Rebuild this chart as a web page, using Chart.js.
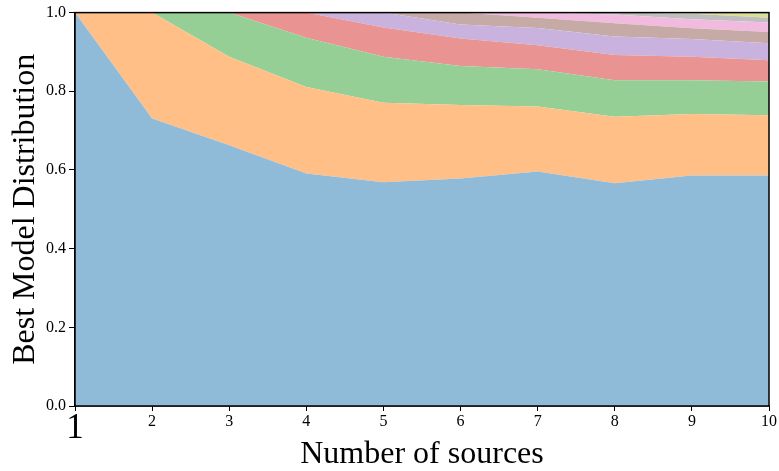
<!DOCTYPE html>
<html>
<head>
<meta charset="utf-8">
<script src="https://cdn.jsdelivr.net/npm/chart.js@4/dist/chart.umd.min.js"></script>
<style>
  html, body { margin: 0; padding: 0; background: #fff; }
  #wrap { width: 779px; height: 471px; }
</style>
</head>
<body>
<div id="wrap"><canvas id="c" width="779" height="471"></canvas></div>
<script>
var sources = ['1', '2', '3', '4', '5', '6', '7', '8', '9', '10'];
// share of runs where each model was best (stacked layers, bottom to top)
var model1 = [1.000, 0.731, 0.663, 0.591, 0.569, 0.578, 0.596, 0.566, 0.586, 0.586];
var model2 = [0, 0.269, 0.225, 0.220, 0.202, 0.187, 0.165, 0.169, 0.156, 0.153];
var model3 = [0, 0, 0.112, 0.125, 0.117, 0.099, 0.095, 0.093, 0.086, 0.086];
var model4 = [0, 0, 0, 0.064, 0.074, 0.070, 0.061, 0.064, 0.060, 0.054];
var model5 = [0, 0, 0, 0, 0.038, 0.036, 0.044, 0.047, 0.045, 0.043];
var model6 = [0, 0, 0, 0, 0, 0.030, 0.026, 0.034, 0.027, 0.029];
var model7 = [0, 0, 0, 0, 0, 0, 0.013, 0.022, 0.023, 0.024];
var model8 = [0, 0, 0, 0, 0, 0, 0, 0.005, 0.014, 0.012];
var model9 = [0, 0, 0, 0, 0, 0, 0, 0, 0.003, 0.010];
var model10 = [0, 0, 0, 0, 0, 0, 0, 0, 0, 0.003];
var yTicks = [0, 0.2, 0.4, 0.6, 0.8, 1.0];

var series = [model1, model2, model3, model4, model5, model6, model7, model8, model9, model10];
var colors = ['#8fbbd9', '#ffbf86', '#95cf95', '#ea9393', '#c9b3de',
              '#c5aaa5', '#f1bbe0', '#bfbfbf', '#dddf90', '#8bdee7'];

var datasets = series.map(function(vals, i) {
    return {
        label: 'model ' + (i + 1), data: vals,
        backgroundColor: colors[i], borderColor: colors[i], borderWidth: 0, pointRadius: 0,
        fill: i === 0 ? 'origin' : '-1', tension: 0
    };
});

// matplotlib-style box around the plot
var frame = {
    id: 'frame',
    afterDraw: function(chart) {
        var a = chart.chartArea, ctx = chart.ctx;
        ctx.save();
        ctx.strokeStyle = '#000';
        ctx.lineWidth = 1.5;
        ctx.strokeRect(a.left, a.top, a.right - a.left, a.bottom - a.top);
        ctx.restore();
    }
};

var serif = '"Liberation Serif", "DejaVu Serif", serif';

new Chart(document.getElementById('c').getContext('2d'), {
    type: 'line',
    data: { labels: sources, datasets: datasets },
    plugins: [frame],
    options: {
        responsive: false, animation: false,
        layout: { padding: { left: 0, right: 10, top: 12, bottom: 0 } },
        plugins: { legend: { display: false }, tooltip: { enabled: false } },
        scales: {
            x: {
                type: 'category', offset: false,
                grid: { display: true, drawOnChartArea: false, drawTicks: true, tickLength: 5, color: '#000', lineWidth: 1 },
                border: { display: true, color: '#000', width: 1.5 },
                ticks: {
                    color: '#000', maxRotation: 0, autoSkip: false, padding: 1,
                    font: function(ctx) {
                        return ctx.index === 0 ? { family: serif, size: 35, lineHeight: 0.95 }
                                               : { family: serif, size: 16 };
                    }
                },
                title: { display: true, text: 'Number of sources', color: '#000',
                         font: { family: serif, size: 32 }, padding: { top: 0, bottom: -3 } },
                afterFit: function(s) { s.height = 65; }
            },
            y: {
                min: 0, max: 1, stacked: true,
                afterBuildTicks: function(s) { s.ticks = yTicks.map(function(v) { return { value: v }; }); },
                grid: { display: true, drawOnChartArea: false, drawTicks: true, tickLength: 6, color: '#000', lineWidth: 1 },
                border: { display: true, color: '#000', width: 1.5 },
                ticks: {
                    color: '#000', padding: 3, font: { family: serif, size: 16 },
                    callback: function(v) { return Number(v).toFixed(1); }
                },
                title: { display: true, text: 'Best Model Distribution', color: '#000',
                         font: { family: serif, size: 32 }, padding: { top: 6, bottom: 0 } },
                afterFit: function(s) { s.width = 75; }
            }
        }
    }
});
</script>
</body>
</html>
